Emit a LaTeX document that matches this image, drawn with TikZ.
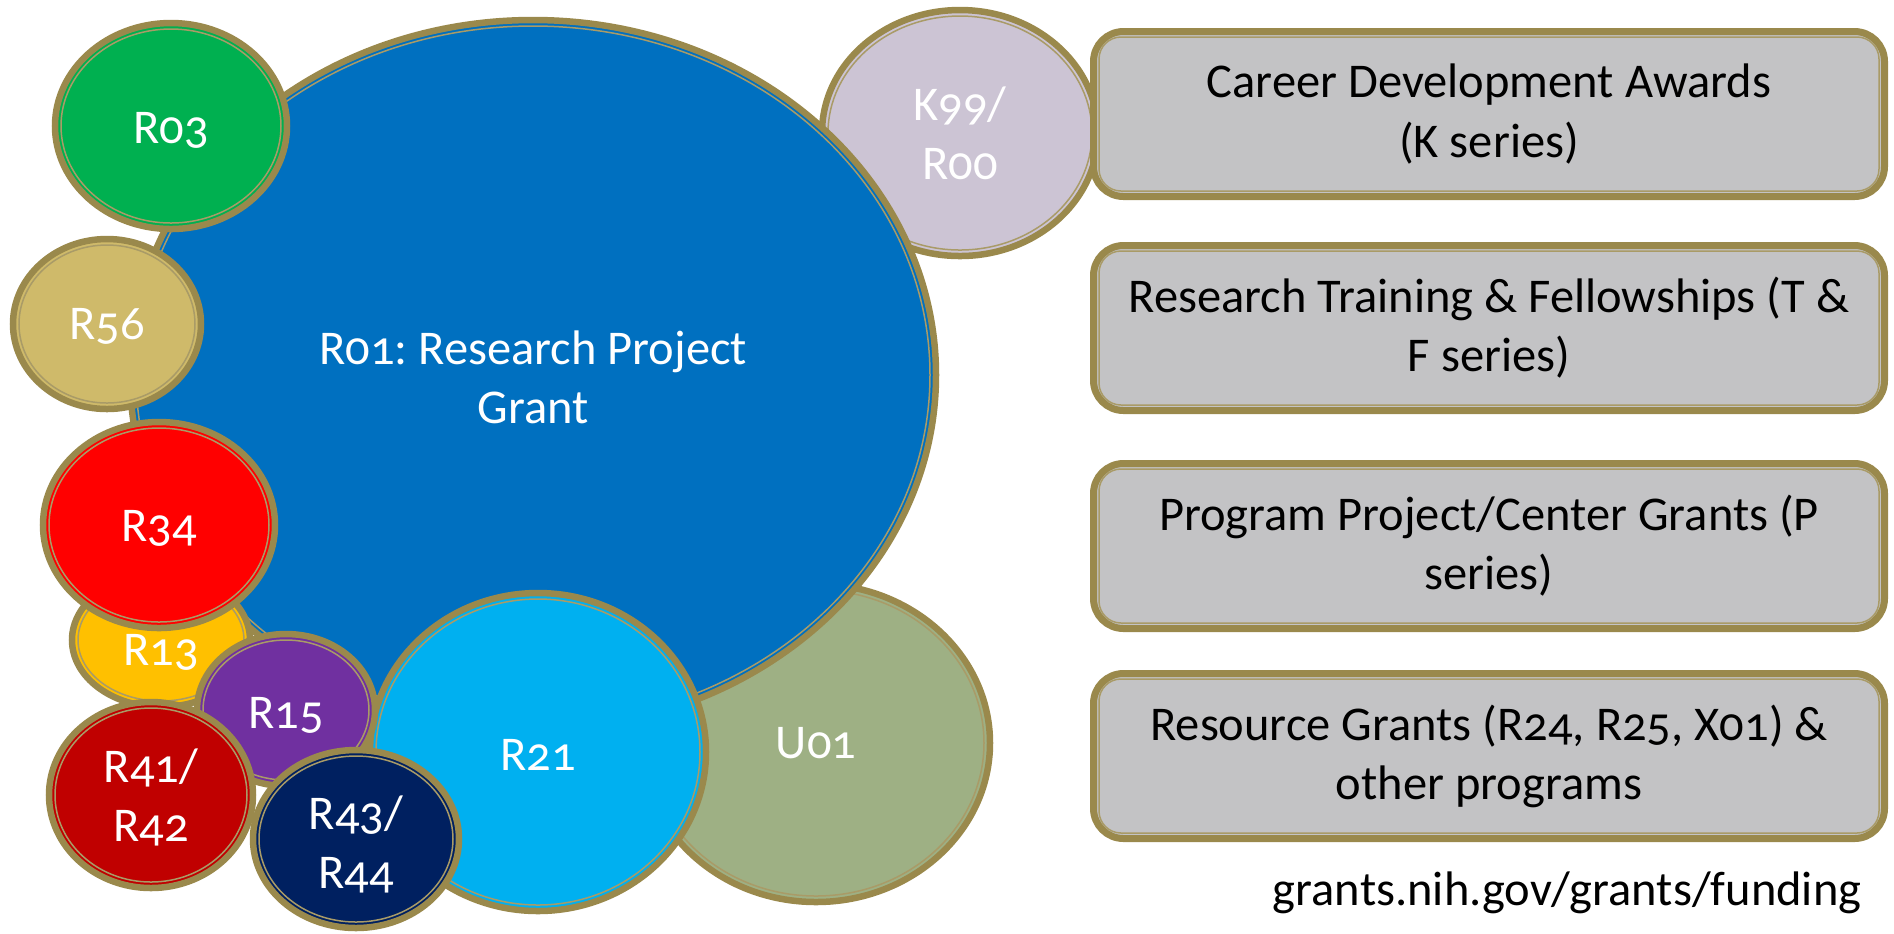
\documentclass[tikz,border=0pt]{standalone}
\usepackage{fontspec}
\setmainfont{Carlito}[Numbers=OldStyle]
\frenchspacing

\definecolor{rimgold}{RGB}{154,137,76}
\definecolor{kgray}{RGB}{204,196,212}
\definecolor{ugreen}{RGB}{158,176,132}
\definecolor{rpblue}{RGB}{0,112,192}
\definecolor{rgreen}{RGB}{0,176,80}
\definecolor{rtan}{RGB}{207,186,106}
\definecolor{ryellow}{RGB}{255,192,0}
\definecolor{rred}{RGB}{255,0,0}
\definecolor{rcyan}{RGB}{0,176,240}
\definecolor{rpurple}{RGB}{112,48,160}
\definecolor{rdarkred}{RGB}{192,0,0}
\definecolor{rnavy}{RGB}{0,32,96}
\definecolor{boxgray}{RGB}{195,195,197}

\tikzset{
  rim/.style={draw=rimgold, line width=0.65mm},
  rimin/.style={draw=rimgold!85!white, line width=0.15mm},
  lbl/.style={text=white, align=center, font=\fontsize{13.8}{16.8}\selectfont},
  fundbox/.style={rectangle, rounded corners=3mm, draw=rimgold, line width=0.7mm,
    fill=boxgray, minimum width=79.1mm, minimum height=16.5mm, inner sep=0pt,
    align=center, font=\fontsize{13.8}{16.8}\selectfont}
}

\begin{document}
\begin{tikzpicture}[x=0.1mm,y=-0.1mm]
\useasboundingbox (0,0) rectangle (1894,933);

% bubbles, back to front (last field: label drop)
\foreach \nm/\x/\y/\rx/\ry/\col/\lab/\dy in {
  k99/960/133/138/123/kgray/{K99/\\R00}/0,
  u01/816/743/174/159/ugreen/{U01}/0,
  r01/533/375/403/355/rpblue/{R01: Research Project\\Grant}/2,
  r03/171/126/116/103/rgreen/{R03}/4,
  r56/107/324/94/85/rtan/{R56}/2,
  r13/161/640/89/67/ryellow/{R13}/12,
  r34/159/525/116/103/rred/{R34}/3,
  r21/538/752/168/159/rcyan/{R21}/3,
  r15/286/710/89/76/rpurple/{R15}/5,
  r41/151/795/102/93/rdarkred/{R41/\\R42}/2,
  r43/356/839/103/89/rnavy/{R43/\\R44}/5}{
  \path[rim, fill=\col] (\x,\y) ellipse [x radius=\rx, y radius=\ry];
  \draw[rimin] (\x,\y) ellipse [x radius=\rx-6, y radius=\ry-6];
  \node[lbl] (\nm) at (\x,\y+\dy) {\lab};
}

% funding series boxes
\foreach \nm/\y/\lab in {
  kser/114/{Career Development Awards\\(K series)},
  tfser/328/{Research Training \& Fellowships (T \&\\F series)},
  pser/546/{Program Project/Center Grants (P\\series)},
  rsrc/756/{Resource Grants (R24, R25, X01) \&\\other programs}}{
  \node[fundbox] (\nm) at (1489,\y) {\lab};
  \draw[rimin, rounded corners=2.2mm] ([shift={(0.9mm,-0.9mm)}]\nm.north west)
    rectangle ([shift={(-0.9mm,0.9mm)}]\nm.south east);
}

\node[anchor=east, font=\fontsize{13.8}{16.8}\selectfont] (url) at (1874,893)
  {grants.nih.gov/grants/funding};
\end{tikzpicture}
\end{document}
